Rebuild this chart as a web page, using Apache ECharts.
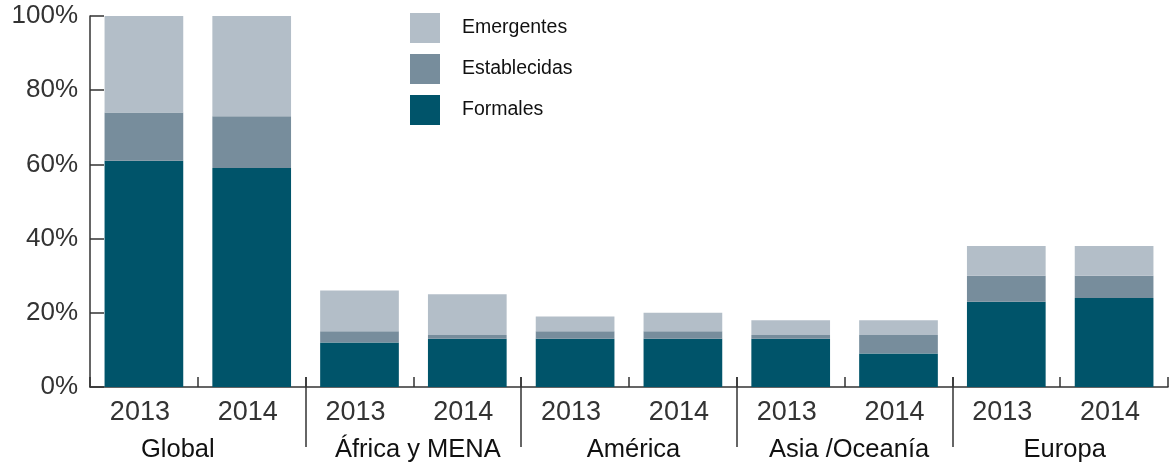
<!DOCTYPE html>
<html>
<head>
<meta charset="utf-8">
<script src="https://cdn.jsdelivr.net/npm/echarts@6/dist/echarts.min.js"></script>
<style>
  html, body { margin: 0; padding: 0; background: #fff; }
  #chart { width: 1173px; height: 464px; }
</style>
</head>
<body>
<div id="chart"></div>
<script>
  // data (percent of each region)
  var years = ['2013', '2014', '2013', '2014', '2013', '2014', '2013', '2014', '2013', '2014'];
  var groups = ['Global', 'África y MENA', 'América', 'Asia /Oceanía', 'Europa'];
  var formales = [61, 59, 12, 13, 13, 13, 13, 9, 23, 24];
  var establecidas = [13, 14, 3, 1, 2, 2, 1, 5, 7, 6];
  var emergentes = [26, 27, 11, 11, 4, 5, 4, 4, 8, 8];
  var yTicks = [0, 100, 20];

  var colorList = ['#00546a', '#778d9c', '#b3bec8'];
  var axisColor = '#333';
  var font = 'Liberation Sans, Arial, sans-serif';

  var chart = echarts.init(document.getElementById('chart'));

  // region labels are not quite centred in the original
  var groupLabels = groups.map(function (g, i) {
    return {
      value: g,
      textStyle: { padding: i === 0 ? [0, 40, 0, 0] : [0, 0, 0, 9] }
    };
  });

  var option = {
    animation: false,
    color: colorList,
    legend: {
      orient: 'vertical',
      left: 405,
      top: 8,
      itemWidth: 30,
      itemHeight: 30,
      itemGap: 11,
      icon: 'rect',
      data: ['Emergentes', 'Establecidas', 'Formales'],
      textStyle: { fontFamily: font, fontSize: 19.5, color: '#111', padding: [6, 0, 0, 17] }
    },
    grid: [
      { left: 90, right: 5, top: 16, bottom: 77 },
      { left: 90, right: 5, top: 377, height: 70 }
    ],
    xAxis: [
      {
        type: 'category',
        gridIndex: 0,
        data: years,
        axisLine: { lineStyle: { color: axisColor, width: 1.5 } },
        axisTick: { show: true, inside: true, length: 10, interval: 0, lineStyle: { color: axisColor, width: 1.5 } },
        axisLabel: { interval: 0, margin: 12, padding: [0, 8, 0, 0], fontFamily: font, fontSize: 27, color: '#333' }
      },
      {
        type: 'category',
        gridIndex: 0,
        position: 'bottom',
        data: groupLabels,
        axisLine: { show: false },
        axisTick: { show: false },
        axisLabel: { interval: 0, margin: 50, fontFamily: font, fontSize: 25.5, color: '#111' }
      },
      {
        // separators between regions
        type: 'category',
        gridIndex: 1,
        data: groups,
        axisLine: { show: false },
        axisTick: { show: false },
        axisLabel: { show: false },
        splitLine: {
          show: true,
          interval: 0,
          showMinLine: false,
          showMaxLine: false,
          lineStyle: { color: axisColor, width: 1.5 }
        }
      }
    ],
    yAxis: [
      {
        type: 'value',
        gridIndex: 0,
        min: yTicks[0],
        max: yTicks[1],
        interval: yTicks[2],
        axisLine: { show: true, lineStyle: { color: axisColor, width: 1.5 } },
        axisTick: { show: true, inside: true, length: 14, lineStyle: { color: axisColor, width: 1.5 } },
        splitLine: { show: false },
        axisLabel: { formatter: '{value}%', margin: 12, fontFamily: font, fontSize: 26, color: '#333' }
      },
      { type: 'value', gridIndex: 1, show: false, splitLine: { show: false } }
    ],
    series: [
      { name: 'Formales', type: 'bar', stack: 'a', barWidth: '73%', data: formales },
      { name: 'Establecidas', type: 'bar', stack: 'a', barWidth: '73%', data: establecidas },
      { name: 'Emergentes', type: 'bar', stack: 'a', barWidth: '73%', data: emergentes }
    ]
  };

  chart.setOption(option);
</script>
</body>
</html>
